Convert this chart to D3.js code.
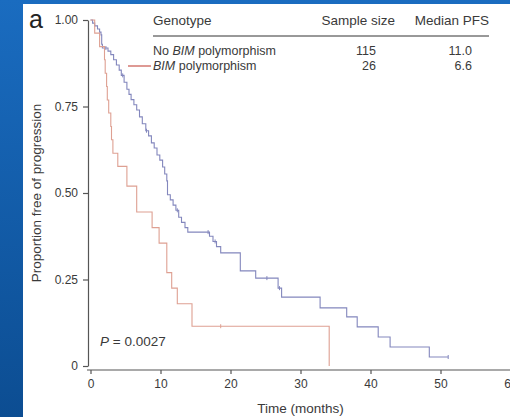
<!DOCTYPE html>
<html>
<head>
<meta charset="utf-8">
<script src="https://cdn.jsdelivr.net/npm/d3@7"></script>
<style>
  html, body { margin: 0; padding: 0; background: #1563b3; }
  svg { display: block; }
  text { font-family: "Liberation Sans", Arial, sans-serif; fill: #3a3a3a; }
</style>
</head>
<body>
<script>
// step points: [months, proportion free of progression]
var noBimSteps = [
  [0, 1], [0.3, 0.991], [0.6, 0.983], [1.0, 0.974], [1.3, 0.965], [1.5, 0.957],
  [1.6, 0.93], [1.7, 0.919], [2.5, 0.91], [2.9, 0.90], [3.3, 0.885], [3.7, 0.87],
  [4.1, 0.855], [4.4, 0.84], [4.8, 0.82], [5.2, 0.80], [5.5, 0.785], [5.8, 0.77],
  [6.2, 0.755], [6.6, 0.74], [7.0, 0.72], [7.4, 0.70], [7.9, 0.68], [8.3, 0.665],
  [8.7, 0.645], [9.1, 0.63], [9.5, 0.61], [9.9, 0.595], [10.3, 0.575], [10.6, 0.555],
  [10.9, 0.535], [11.0, 0.495], [11.4, 0.48], [11.8, 0.465], [12.2, 0.45], [12.6, 0.43],
  [13.0, 0.415], [13.5, 0.40], [13.9, 0.387], [17.0, 0.375], [17.5, 0.36], [18.0, 0.345],
  [18.6, 0.327], [21.4, 0.275], [23.6, 0.254], [26.8, 0.225], [27.3, 0.199],
  [32.8, 0.168], [36.6, 0.142], [38.1, 0.113], [41.1, 0.084], [42.8, 0.055],
  [48.4, 0.026], [51.1, 0.026]
];
var bimSteps = [
  [0, 1], [0.6, 0.962], [1.3, 0.923], [2.0, 0.885], [2.1, 0.846], [2.3, 0.808],
  [2.4, 0.769], [2.6, 0.731], [2.9, 0.692], [3.0, 0.654], [3.2, 0.615], [3.9, 0.577],
  [5.2, 0.52], [6.6, 0.445], [8.8, 0.40], [9.8, 0.355], [10.9, 0.27], [11.6, 0.225],
  [12.4, 0.18], [14.5, 0.115], [34.1, 0]
];
var noBimCensor = [2.2, 4.6, 8.0, 12.4, 16.8, 17.8, 25.2, 27.0, 51.1];
var bimCensor = [18.6];

var xTicks = [0, 10, 20, 30, 40, 50, 60];
var yTicks = [0, 0.25, 0.5, 0.75, 1];
var yTickLabels = ["0", "0.25", "0.50", "0.75", "1.00"];

var legendHead = ["Genotype", "Sample size", "Median PFS"];
var legendRows = [
  { pre: "No ", it: "BIM", post: " polymorphism", n: "115", med: "11.0" },
  { pre: "", it: "BIM", post: " polymorphism", n: "26", med: "6.6" }
];

var width = 510, height = 417;
var blue = "#8387bd", red = "#dea092";

var svg = d3.select("body").append("svg")
    .attr("width", width)
    .attr("height", height);

// slide background + white panel
var grad = svg.append("defs").append("linearGradient")
    .attr("id", "bg").attr("x1", 0).attr("y1", 0).attr("x2", 0).attr("y2", 1);
grad.append("stop").attr("offset", "0%").attr("stop-color", "#1a6cc0");
grad.append("stop").attr("offset", "100%").attr("stop-color", "#0c4d92");
svg.append("rect").attr("width", width).attr("height", height).attr("fill", "url(#bg)");
svg.append("rect").attr("x", 23).attr("y", 4).attr("width", width - 23).attr("height", height - 4)
    .attr("fill", "#ffffff");

var x = d3.scaleLinear().domain([0, 60]).range([90.5, 510.5]);
var y = d3.scaleLinear().domain([0, 1]).range([366, 20]);

// axes
var xAxis = svg.append("g")
    .attr("transform", "translate(0,370)")
    .call(d3.axisBottom(x).tickValues(xTicks).tickSize(4).tickSizeOuter(0).tickPadding(5));
xAxis.select(".domain").attr("d", "M87,0H511");

var yAxis = svg.append("g")
    .attr("transform", "translate(88,0)")
    .call(d3.axisLeft(y).tickValues(yTicks).tickSize(5).tickSizeOuter(0).tickPadding(5)
      .tickFormat(function(d, i) { return yTickLabels[i]; }));

svg.selectAll(".domain, .tick line").attr("stroke", "#555").attr("stroke-width", 1.2);
svg.selectAll(".tick text").attr("fill", "#444").style("font-size", "12px")
    .style("font-family", "Liberation Sans, Arial, sans-serif");

svg.append("text")
    .attr("transform", "translate(41,193) rotate(-90)")
    .attr("text-anchor", "middle")
    .style("font-size", "13.5px")
    .text("Proportion free of progression");

svg.append("text")
    .attr("x", x(30)).attr("y", 413)
    .attr("text-anchor", "middle")
    .style("font-size", "13.5px")
    .text("Time (months)");

svg.append("text")
    .attr("x", 29).attr("y", 28)
    .style("font-size", "25px")
    .style("fill", "#222")
    .text("a");

// curves
var line = d3.line()
    .x(function(d) { return x(d[0]); })
    .y(function(d) { return y(d[1]); })
    .curve(d3.curveStepAfter);

function survAt(steps, t) {
  var s = 1;
  steps.forEach(function(d) { if (d[0] <= t) s = d[1]; });
  return s;
}

[[noBimSteps, noBimCensor, blue], [bimSteps, bimCensor, red]].forEach(function(g) {
  svg.append("path")
      .datum(g[0])
      .attr("d", line)
      .attr("fill", "none")
      .attr("stroke", g[2])
      .attr("stroke-width", 1.1);
  svg.selectAll(null)
      .data(g[1])
      .enter().append("line")
      .attr("x1", function(d) { return x(d); })
      .attr("x2", function(d) { return x(d); })
      .attr("y1", function(d) { return y(survAt(g[0], d)) - 2; })
      .attr("y2", function(d) { return y(survAt(g[0], d)) + 2; })
      .attr("stroke", g[2])
      .attr("stroke-width", 1);
});

// legend table
var headX = [153, 395, 489];
legendHead.forEach(function(h, i) {
  svg.append("text")
      .attr("x", headX[i]).attr("y", 25)
      .attr("text-anchor", i === 0 ? "start" : "end")
      .style("font-size", "13.5px")
      .text(h);
});
svg.append("line")
    .attr("x1", 153).attr("x2", 489).attr("y1", 36).attr("y2", 36)
    .attr("stroke", "#333").attr("stroke-width", 1);

legendRows.forEach(function(r, i) {
  var yy = 55 + i * 15;
  var t = svg.append("text").attr("x", 153).attr("y", yy).style("font-size", "12.5px");
  t.append("tspan").text(r.pre);
  t.append("tspan").style("font-style", "italic").text(r.it);
  t.append("tspan").text(r.post);
  svg.append("text").attr("x", 376).attr("y", yy).attr("text-anchor", "end")
      .style("font-size", "12.5px").text(r.n);
  svg.append("text").attr("x", 472).attr("y", yy).attr("text-anchor", "end")
      .style("font-size", "12.5px").text(r.med);
});
svg.append("line")
    .attr("x1", 128).attr("x2", 151).attr("y1", 66).attr("y2", 66)
    .attr("stroke", "#c8544c").attr("stroke-width", 1.2);

// p value
var p = svg.append("text").attr("x", 100).attr("y", 346).style("font-size", "13.5px");
p.append("tspan").style("font-style", "italic").text("P");
p.append("tspan").text(" = 0.0027");
</script>
</body>
</html>
